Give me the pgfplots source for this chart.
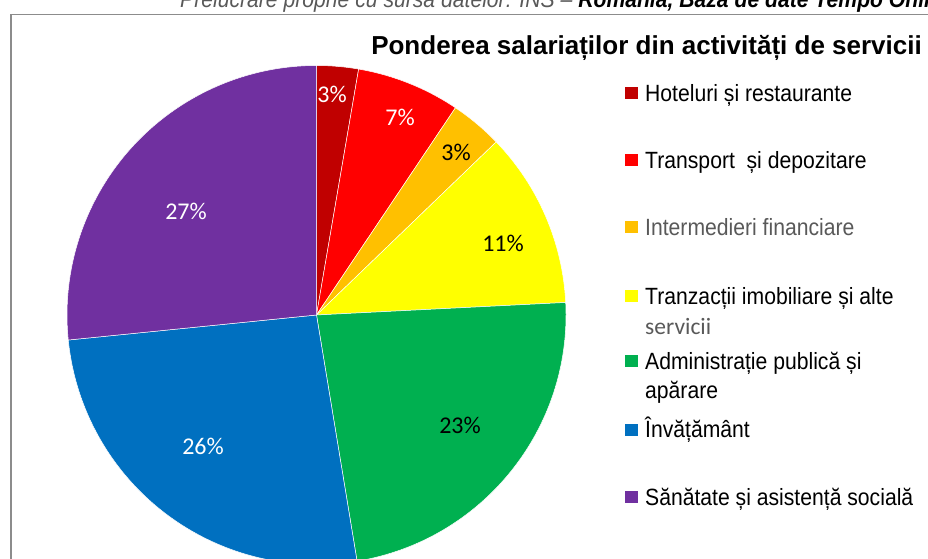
\documentclass[border=0pt]{standalone}
\usepackage{pgfplots}
\pgfplotsset{compat=1.18}
\usepackage{pgfplotstable}
\usepackage{fontspec}
\setmainfont{Liberation Sans}
\newfontfamily\labfont{Carlito}
\newfontfamily\narrowfont[FakeStretch=0.9]{Liberation Sans}
\definecolor{c0}{HTML}{C00000}
\definecolor{c1}{HTML}{FF0000}
\definecolor{c2}{HTML}{FFC000}
\definecolor{c3}{HTML}{FFFF00}
\definecolor{c4}{HTML}{00B050}
\definecolor{c5}{HTML}{0070C0}
\definecolor{c6}{HTML}{7030A0}
\definecolor{framegray}{HTML}{8C8C8C}
\definecolor{txtgray}{HTML}{595959}

% share of employees (%), label position (px), label colour
\pgfplotstableread{
value lx  ly  lc
2.7   332 94  white
6.7   400 117 white
3.4   456 152 black
11.4  503 243 black
23.2  460 425 black
26.0  203 446 white
26.6  186 211 white
}\piedata

\tikzset{legsq/.style={inner sep=0pt, minimum width=13bp, minimum height=12bp},
  legtx/.style={anchor=base west, inner sep=0pt, font=\narrowfont\fontsize{23.5bp}{28bp}\selectfont}}

\begin{document}
\begin{tikzpicture}[x=1bp,y=1bp]
\pgfmathsetmacro{\cum}{0}
\pgfplotsforeachungrouped \i in {0,...,6}{%
  \pgfplotstablegetelem{\i}{value}\of\piedata
  \let\val\pgfplotsretval
  \pgfmathsetmacro{\sa}{90-3.6*\cum}
  \pgfmathsetmacro{\cum}{\cum+\val}
  \pgfmathsetmacro{\ea}{90-3.6*\cum}
  \pgfmathtruncatemacro{\pc}{round(\val)}
  \expandafter\xdef\csname sa\i\endcsname{\sa}%
  \expandafter\xdef\csname ea\i\endcsname{\ea}%
  \expandafter\xdef\csname pc\i\endcsname{\pc}%
  \pgfplotstablegetelem{\i}{lx}\of\piedata
  \expandafter\xdef\csname lx\i\endcsname{\pgfplotsretval}%
  \pgfplotstablegetelem{\i}{ly}\of\piedata
  \expandafter\xdef\csname ly\i\endcsname{\pgfplotsretval}%
  \pgfplotstablegetelem{\i}{lc}\of\piedata
  \expandafter\xdef\csname lc\i\endcsname{\pgfplotsretval}%
}
\begin{axis}[
  scale only axis, width=928bp, height=559bp,
  xmin=0, xmax=928, ymin=0, ymax=559, y dir=reverse,
  hide axis, clip=false,
]
% frame
\draw[framegray, line width=1.5bp] (axis cs:11,620) -- (axis cs:11,14.5) -- (axis cs:990,14.5);
% source text (cropped at the top, as in the reference)
\node[anchor=base west, inner sep=0pt, font=\narrowfont\itshape\fontsize{23.5bp}{27bp}\selectfont] at (axis cs:180,7.5)
  {\textcolor{txtgray}{Prelucrare proprie cu sursa datelor: INS –} \textbf{Romania, Baza de date Tempo Online}};
% slices
\pgfplotsinvokeforeach{0,...,6}{
  \fill[c#1, draw=white, line width=0.5bp] (axis cs:316.5,315) -- ++(\csname sa#1\endcsname:249.5bp)
    arc[start angle=\csname sa#1\endcsname, end angle=\csname ea#1\endcsname, radius=249.5bp] -- cycle;
}
\pgfplotsinvokeforeach{0,...,6}{
  \node[text=\csname lc#1\endcsname, font=\labfont\fontsize{24bp}{28bp}\selectfont]
    at (axis cs:\csname lx#1\endcsname,\csname ly#1\endcsname) {\csname pc#1\endcsname\%};
}
% title
\node[anchor=base east, inner sep=0pt, font=\bfseries\fontsize{26bp}{30bp}\selectfont] at (axis cs:922,55)
  {Ponderea salariaților din activități de servicii};
% legend
\node[legsq, fill=c0] at (axis cs:631,93) {};
\node[legsq, fill=c1] at (axis cs:631,160) {};
\node[legsq, fill=c2] at (axis cs:631,227) {};
\node[legsq, fill=c3] at (axis cs:631,296) {};
\node[legsq, fill=c4] at (axis cs:631,361) {};
\node[legsq, fill=c5] at (axis cs:631,430) {};
\node[legsq, fill=c6] at (axis cs:631,497) {};
\node[legtx] at (axis cs:645,102) {Hoteluri și restaurante};
\node[legtx] at (axis cs:645,169) {Transport \ și depozitare};
\node[legtx, text=txtgray] at (axis cs:645,236) {Intermedieri financiare};
\node[legtx] at (axis cs:645,305) {Tranzacții imobiliare și alte};
\node[legtx, text=txtgray, font=\labfont\fontsize{23.5bp}{28bp}\selectfont] at (axis cs:645,335) {servicii};
\node[legtx] at (axis cs:645,370) {Administrație publică și};
\node[legtx] at (axis cs:645,399) {apărare};
\node[legtx] at (axis cs:645,438) {Învățământ};
\node[legtx] at (axis cs:645,505) {Sănătate și asistență socială};
\end{axis}
\pgfresetboundingbox
\useasboundingbox (0,0) rectangle (928,559);
\end{tikzpicture}
\end{document}
